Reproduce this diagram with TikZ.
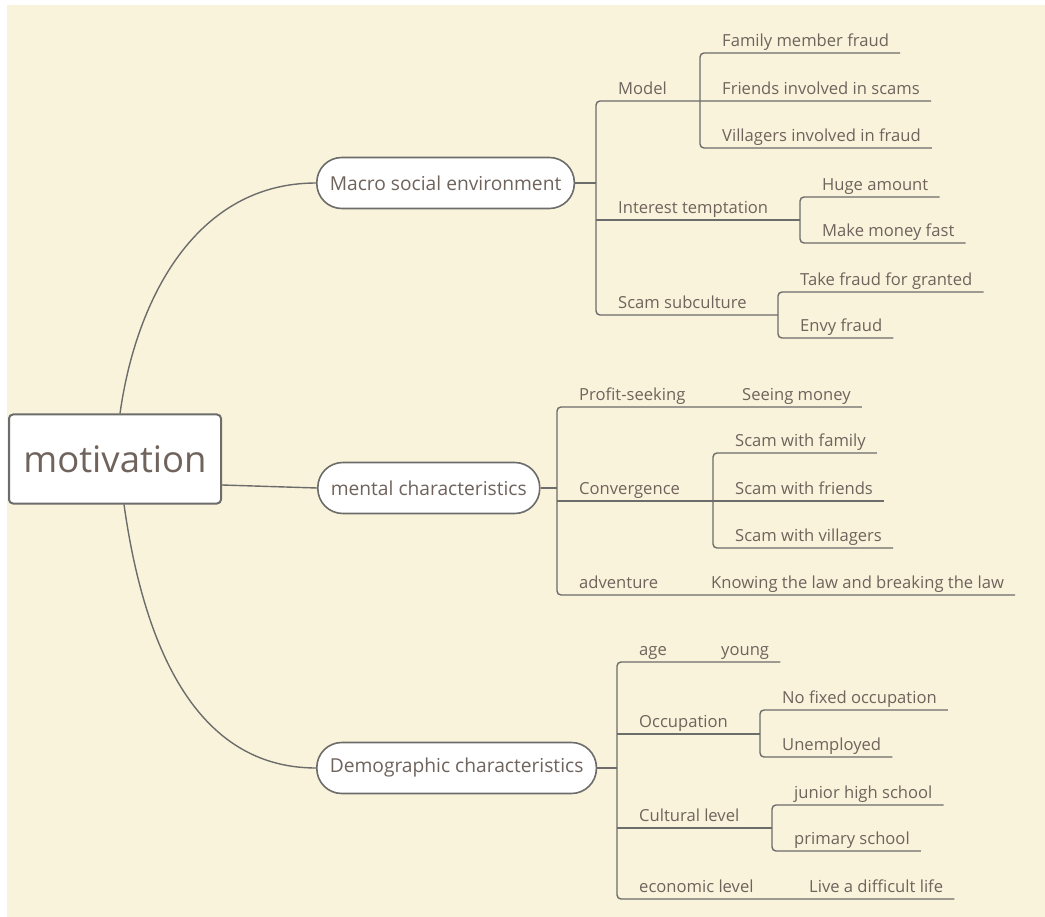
\documentclass[tikz,border=0pt]{standalone}
\usepackage{fontspec}
\setmainfont{Open Sans}
\definecolor{paper}{HTML}{FAF3DC}
\definecolor{ink}{HTML}{6F635C}
\definecolor{edge}{HTML}{6C6C6A}
\tikzset{
  line/.style={draw=edge, line width=1.4pt},
  root/.style={draw=edge, line width=2pt, fill=white, rounded corners=4pt,
    minimum width=212pt, minimum height=89pt, text=ink,
    font=\fontsize{36.5}{40}\selectfont},
  topic/.style={draw=edge, line width=1.6pt, fill=white, rounded corners=25pt,
    minimum height=51pt, inner xsep=13pt, anchor=west, text=ink,
    font=\fontsize{19.2}{22}\selectfont},
  item/.style={anchor=south west, inner xsep=0pt, inner ysep=2.5pt,
    text height=12pt, text depth=4pt, text=ink,
    font=\fontsize{16.6}{19}\selectfont,
    execute at begin node=\hspace*{22pt},
    execute at end node=\hspace*{11pt}}
}
\begin{document}
\begin{tikzpicture}[x=1pt,y=-1pt]
  \useasboundingbox (0,0) rectangle (1045,917);
  \fill[white] (0,0) rectangle (1045,917);
  \fill[paper] (7,5) rectangle (1045,917);

  % centre and main topics
  \node[root] (root) at (115,459) {motivation};
  \node[topic] (macro) at (316,183) {Macro social environment};
  \node[topic] (mental) at (317,488) {mental characteristics};
  \node[topic] (demo) at (316,768) {Demographic characteristics};

  \draw[line] ([xshift=5pt]root.north) to[out=82,in=180] (macro.west);
  \draw[line] ([yshift=-26pt]root.east) -- (mental.west);
  \draw[line] ([xshift=9pt]root.south) to[out=-82,in=180] (demo.west);

  % macro social environment
  \node[item] (model) at (596,101) {Model};
  \node[item] (fam) at (700,53) {Family member fraud};
  \node[item] (fri) at (700,101) {Friends involved in scams};
  \node[item] (vil) at (700,148) {Villagers involved in fraud};
  \node[item] (interest) at (596,220) {Interest temptation};
  \node[item] (huge) at (800,197) {Huge amount};
  \node[item] (fast) at (800,243) {Make money fast};
  \node[item] (scam) at (596,315) {Scam subculture};
  \node[item] (take) at (778,292) {Take fraud for granted};
  \node[item] (envy) at (778,338) {Envy fraud};

  % mental characteristics
  \node[item] (profit) at (557,407) {Profit-seeking};
  \node[item] (seeing) at (720,407) {Seeing money};
  \node[item] (conv) at (557,501) {Convergence};
  \node[item] (sfam) at (713,453) {Scam with family};
  \node[item] (sfri) at (713,501) {Scam with friends};
  \node[item] (svil) at (713,548) {Scam with villagers};
  \node[item] (adv) at (557,595) {adventure};
  \node[item] (know) at (689,595) {Knowing the law and breaking the law};

  % demographic characteristics
  \node[item] (age) at (617,662) {age};
  \node[item] (young) at (699,662) {young};
  \node[item] (occ) at (617,734) {Occupation};
  \node[item] (nofix) at (760,710) {No fixed occupation};
  \node[item] (unemp) at (760,757) {Unemployed};
  \node[item] (cult) at (617,828) {Cultural level};
  \node[item] (junior) at (772,805) {junior high school};
  \node[item] (prim) at (772,851) {primary school};
  \node[item] (econ) at (617,899) {economic level};
  \node[item] (live) at (787,899) {Live a difficult life};

  % branches
  \draw[line] (macro.east) -- (macro.east -| model.west);
  \draw[line, rounded corners=4pt] (fri.south east) -- (model.south west)
    -- (scam.south west) -- (scam.south -| take.west);
  \draw[line] (interest.south west) -- (interest.south -| huge.west);

  \draw[line] (mental.east) -- (mental.east -| profit.west);
  \draw[line, rounded corners=4pt] (seeing.south east) -- (profit.south west)
    -- (adv.south west) -- (know.south east);
  \draw[line] (conv.south west) -- (sfri.south east);

  \draw[line] (demo.east) -- (demo.east -| age.west);
  \draw[line, rounded corners=4pt] (young.south east) -- (age.south west)
    -- (econ.south west) -- (live.south east);
  \draw[line] (occ.south west) -- (occ.south -| nofix.west);
  \draw[line] (cult.south west) -- (cult.south -| junior.west);

  % brackets
  \draw[line, rounded corners=4pt] (fam.south east) -- (fam.south west) -- (vil.south west) -- (vil.south east);
  \draw[line, rounded corners=4pt] (huge.south east) -- (huge.south west) -- (fast.south west) -- (fast.south east);
  \draw[line, rounded corners=4pt] (take.south east) -- (take.south west) -- (envy.south west) -- (envy.south east);
  \draw[line, rounded corners=4pt] (sfam.south east) -- (sfam.south west) -- (svil.south west) -- (svil.south east);
  \draw[line, rounded corners=4pt] (nofix.south east) -- (nofix.south west) -- (unemp.south west) -- (unemp.south east);
  \draw[line, rounded corners=4pt] (junior.south east) -- (junior.south west) -- (prim.south west) -- (prim.south east);
\end{tikzpicture}
\end{document}
